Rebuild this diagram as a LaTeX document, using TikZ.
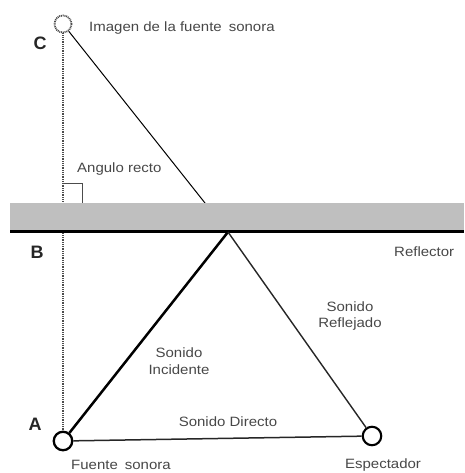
\documentclass[tikz,border=0pt]{standalone}
\usepackage{fontspec}
\setmainfont{Liberation Sans}
\begin{document}
\begin{tikzpicture}[x=1pt,y=-1pt,
  lbl/.style={font=\fontsize{15}{18.5}\selectfont, text=black!72, inner sep=0pt, align=center, yscale=0.9},
  big/.style={font=\fontsize{18}{20}\selectfont\bfseries, text=black!85, inner sep=0pt},
  src/.style={circle, draw=black, line width=2.3pt, minimum size=18.5pt, inner sep=0pt},
  img/.style={circle, draw=black!70, line width=1.8pt, dash pattern=on 1pt off 0.8pt, minimum size=17pt, inner sep=0pt}]
\useasboundingbox (0,0) rectangle (464,473);
% nodes
\node[img] (C) at (63,24) {};
\node[src] (A) at (63,441) {};
\node[src, line width=2.1pt] (E) at (372,436) {};
\coordinate (R) at (228,232);
% dotted perpendicular line
\draw[black!70, line width=1.8pt, dash pattern=on 1pt off 0.8pt] (C.south) -- (A.north);
% line from image to reflection point
\draw[black, line width=1pt] (C) -- (R);
% reflector
\fill[black!25] (10,203) rectangle (464,230);
\draw[black, line width=3pt] (10,231.5) -- (464,231.5);
% right angle
\draw[black!70, line width=0.8pt] (63,183) -- (82,183) -- (82,203);
% sound paths
\draw[black, line width=2.5pt] (A) -- (R);
\draw[black!85, line width=1.4pt] (R) -- (E);
\draw[black!85, line width=1.5pt] (A) -- (E);
% labels
\node[big] (lC) at (40,43) {C};
\node[big] (lB) at (37,252) {B};
\node[big] (lA) at (35,424) {A};
\node[lbl, anchor=west] (t1) at (89,28) {Imagen de la fuente\hspace{7pt}sonora};
\node[lbl, anchor=west] (t2) at (77,169) {Angulo recto};
\node[lbl, anchor=west] (t3) at (394,252) {Reflector};
\node[lbl] (t4) at (350,316) {Sonido\\Reflejado};
\node[lbl] (t5) at (179,361) {Sonido\\Incidente};
\node[lbl] (t6) at (228,422) {Sonido Directo};
\node[lbl] (t7) at (121,465) {Fuente\hspace{7pt}sonora};
\node[lbl] (t8) at (383,465) {Espectador};
\end{tikzpicture}
\end{document}
